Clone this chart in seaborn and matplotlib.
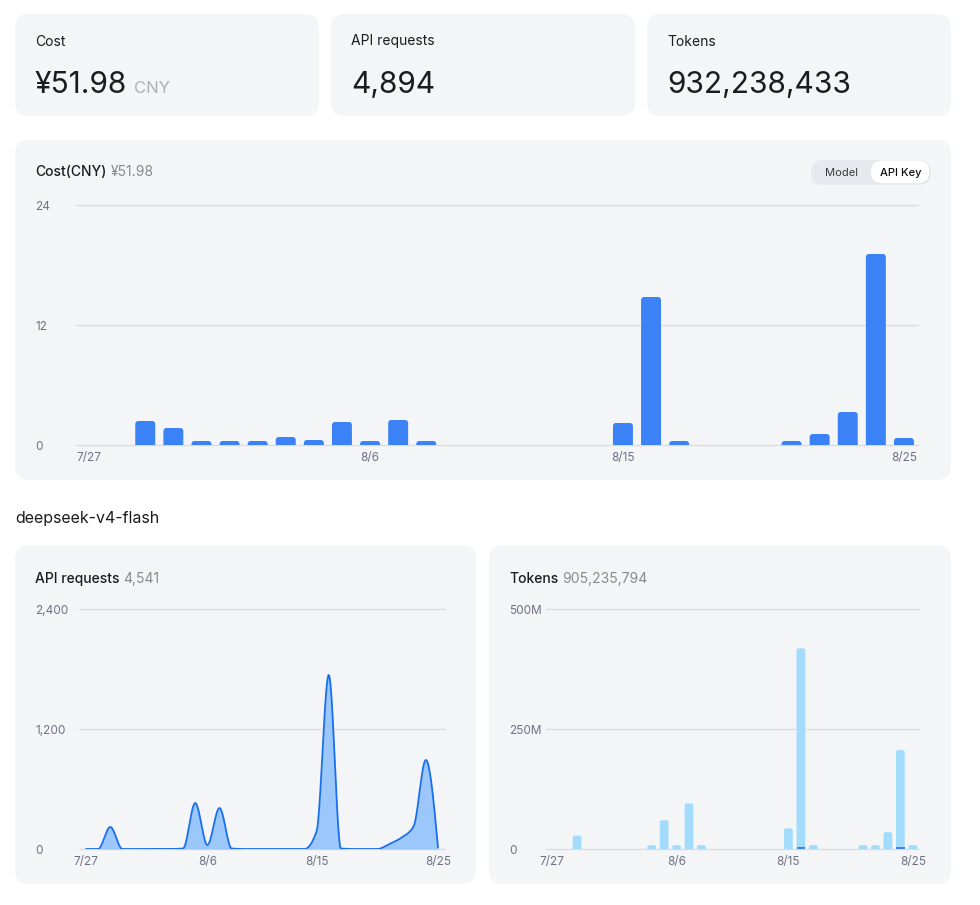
import numpy as np
import pandas as pd
import matplotlib
matplotlib.use('Agg')
import matplotlib.pyplot as plt
import seaborn as sns
from matplotlib.patches import FancyBboxPatch

# 30 days shown on every chart
days = [f'{d.month}/{d.day}' for d in pd.date_range('2025-07-27', '2025-08-25')]
tick_days = ['7/27', '8/6', '8/15', '8/25']

# daily cost in CNY (all models)
cost = [0, 0, 2.4, 1.7, 0.4, 0.4, 0.4, 0.8, 0.5, 2.3,
        0.4, 2.5, 0.4, 0, 0, 0, 0, 0, 0, 2.2,
        14.8, 0.4, 0, 0, 0, 0.4, 1.1, 3.3, 19.1, 0.7]

# deepseek-v4-flash: daily API requests
requests = [0, 0, 220, 0, 0, 0, 0, 0, 5, 460,
            40, 410, 5, 0, 0, 0, 0, 0, 0, 180,
            1740, 5, 0, 0, 0, 50, 115, 230, 890, 15]

# deepseek-v4-flash: daily tokens in millions (two stacked parts)
tokens_main = [0, 0, 28, 0, 0, 0, 0, 0, 8, 60,
               8, 95, 8, 0, 0, 0, 0, 0, 0, 43,
               414, 8, 0, 0, 0, 8, 8, 35, 201, 8]
tokens_small = [0, 0, 0, 0, 0, 0, 0, 0, 0, 0,
                0, 0, 0, 0, 0, 0, 0, 0, 0, 0,
                4, 0, 0, 0, 0, 0, 0, 0, 5, 0]

# summary numbers
total_cost = '¥51.98'
total_requests = '4,894'
total_tokens = '932,238,433'
flash_requests = '4,541'
flash_tokens = '905,235,794'

CARD = '#f4f5f7'
GRID = '#d9dbe3'
TICK = '#6e7285'
BLUE = '#3b82f6'
LINE = '#1a6ff0'
FILL = '#9cc7fb'
SKY = '#a3dbfd'
INK = '#1c1c1c'
GRAY = '#8a8a8a'

sns.set_theme(style='white')
plt.rcParams['font.family'] = ['Inter', 'DejaVu Sans']

W, H = 980, 905
fig = plt.figure(figsize=(W / 100, H / 100), dpi=100)
fig.patch.set_facecolor('white')
bg = fig.add_axes([0, 0, 1, 1], zorder=0)
bg.set_xlim(0, W)
bg.set_ylim(H, 0)
bg.axis('off')


def card(x0, y0, x1, y1, r=14, fc=CARD):
    bg.add_patch(FancyBboxPatch((x0, y0), x1 - x0, y1 - y0,
                                boxstyle=f'round,pad=0,rounding_size={r}',
                                fc=fc, ec='none'))


def px_axes(x0, y0, x1, y1):
    ax = fig.add_axes([x0 / W, 1 - y1 / H, (x1 - x0) / W, (y1 - y0) / H], zorder=1)
    ax.set_facecolor('none')
    return ax


def style(ax, yticks, ylabels, pad_px):
    for s in ax.spines.values():
        s.set_visible(False)
    ax.set_yticks(yticks, ylabels)
    ax.set_ylim(yticks[0], yticks[-1])
    ax.yaxis.grid(True, color=GRID, lw=0.9)
    ax.xaxis.grid(False)
    ax.set_axisbelow(True)
    for gl in ax.get_ygridlines():
        gl.set_clip_on(False)
    ax.tick_params(length=0, labelsize=8.5, labelcolor=TICK)
    ax.tick_params(axis='y', pad=pad_px * 0.72)
    ax.tick_params(axis='x', pad=5)
    for t in ax.get_yticklabels():
        t.set_ha('left')
    ax.set_xlabel('')
    ax.set_ylabel('')


def round_bars(ax, r_px, w_px, h_px):
    x0, x1 = ax.get_xlim()
    y0, y1 = ax.get_ylim()
    ux = (x1 - x0) / w_px
    uy = (y1 - y0) / h_px
    for p in list(ax.patches):
        h = p.get_height()
        if h > 0:
            rb = FancyBboxPatch((p.get_x(), p.get_y() - r_px * uy), p.get_width(), h + r_px * uy,
                                boxstyle=f'round,pad=0,rounding_size={r_px * ux}',
                                mutation_aspect=uy / ux, fc=p.get_facecolor(), ec='none',
                                zorder=p.get_zorder())
            ax.add_patch(rb)
        p.remove()


def monotone(x, y, n=40):
    # d3 curveMonotoneX style smoothing
    x = np.asarray(x, float)
    y = np.asarray(y, float)
    h = np.diff(x)
    s = np.diff(y) / h
    t = np.zeros_like(y)
    for i in range(1, len(y) - 1):
        p = (s[i - 1] * h[i] + s[i] * h[i - 1]) / (h[i - 1] + h[i])
        t[i] = (np.sign(s[i - 1]) + np.sign(s[i])) * min(abs(s[i - 1]), abs(s[i]), 0.5 * abs(p))
    t[0] = (3 * s[0] - t[1]) / 2
    t[-1] = (3 * s[-1] - t[-2]) / 2
    xs, ys = [], []
    for i in range(len(y) - 1):
        u = np.linspace(0, 1, n, endpoint=False)
        h00 = 2 * u**3 - 3 * u**2 + 1
        h10 = u**3 - 2 * u**2 + u
        h01 = -2 * u**3 + 3 * u**2
        h11 = u**3 - u**2
        xs.append(x[i] + u * h[i])
        ys.append(h00 * y[i] + h10 * h[i] * t[i] + h01 * y[i + 1] + h11 * h[i] * t[i + 1])
    xs.append([x[-1]])
    ys.append([y[-1]])
    return np.concatenate(xs), np.maximum(np.concatenate(ys), 0)


def text_after(prev, txt, gap, **kw):
    r = fig.canvas.get_renderer()
    bb = prev.get_window_extent(r)
    return bg.text(bb.x1 + gap, prev.get_position()[1], txt, **kw)


# ---- summary cards ----
for (x0, x1), label, value in [((15, 319), 'Cost', total_cost),
                               ((331, 635), 'API requests', total_requests),
                               ((647, 951), 'Tokens', total_tokens)]:
    card(x0, 14, x1, 116)
    bg.text(x0 + 20, 41.5, label, fontsize=10, color=INK, va='center')
    big = bg.text(x0 + 20, 93, value, fontsize=21.5, color=INK, va='baseline')
    if label == 'Cost':
        text_after(big, 'CNY', 7, fontsize=12, color='#b0b0b0', va='baseline')

# ---- cost chart ----
card(15, 140, 951, 480)
t = bg.text(35, 172, 'Cost(CNY)', fontsize=10, color=INK, va='center', weight='medium')
text_after(t, total_cost, 4, fontsize=10, color=GRAY, va='center')

# Model / API Key switch
card(811, 160, 931, 185, r=12.5, fc='#e8e9ef')
card(871.5, 161.5, 930, 184, r=11.2, fc='#d9dbe2')
card(871, 160.5, 929.5, 183.5, r=11.5, fc='white')
bg.text(841, 172.5, 'Model', fontsize=8, color='#3a3a3a', ha='center', va='center')
bg.text(900.5, 172.5, 'API Key', fontsize=8, color='#111111', ha='center', va='center', weight='medium')

df_cost = pd.DataFrame({'day': days, 'cost': cost})
ax1 = px_axes(75, 205, 918, 445)
sns.barplot(data=df_cost, x='day', y='cost', order=days, color=BLUE, saturation=1,
            width=0.71, errorbar=None, ax=ax1)
style(ax1, [0, 12, 24], ['0', '12', '24'], 40)
ax1.set_xlim(-0.5, len(days) - 0.5)
ax1.set_xticks([days.index(d) for d in tick_days], tick_days)
round_bars(ax1, 3, 843, 240)

# ---- model section ----
bg.text(15, 518, 'deepseek-v4-flash', fontsize=11.5, color=INK, va='center')

card(15, 545, 476, 884)
card(489, 545, 951, 884)
t = bg.text(35, 579, 'API requests', fontsize=10, color=INK, va='center', weight='medium')
text_after(t, flash_requests, 4, fontsize=10, color=GRAY, va='center')
t = bg.text(509, 579, 'Tokens', fontsize=10, color=INK, va='center', weight='medium')
text_after(t, flash_tokens, 4, fontsize=10, color=GRAY, va='center')

# requests area
ax2 = px_axes(79, 609, 445, 849)
xs, ys = monotone(np.arange(len(days)), requests)
ax2.fill_between(xs, ys, color=FILL, lw=0, zorder=2)
sns.lineplot(x=xs, y=ys, color=LINE, lw=1.3, estimator=None, sort=False, ax=ax2, zorder=3)
style(ax2, [0, 1200, 2400], ['0', '1,200', '2,400'], 44)
ax2.set_xlim(-0.577, len(days) - 1 + 0.577)
ax2.set_xticks([days.index(d) for d in tick_days], tick_days)

# tokens stacked bars
df_tok = pd.DataFrame({'day': days,
                       'total': np.array(tokens_main) + np.array(tokens_small),
                       'small': tokens_small})
ax3 = px_axes(546, 609, 919, 849)
sns.barplot(data=df_tok, x='day', y='total', order=days, color=SKY, saturation=1,
            width=0.70, errorbar=None, ax=ax3)
style(ax3, [0, 250, 500], ['0', '250M', '500M'], 37)
ax3.set_xlim(-0.5, len(days) - 0.5)
round_bars(ax3, 2, 373, 240)
n_light = len(ax3.patches)
sns.barplot(data=df_tok, x='day', y='small', order=days, color=BLUE, saturation=1,
            width=0.70, errorbar=None, ax=ax3)
for p in ax3.patches[n_light:]:
    p.set_zorder(5)
    p.set_linewidth(0)
    p.set_edgecolor('none')
ax3.set_ylim(0, 500)
ax3.set_xlim(-0.5, len(days) - 0.5)
ax3.set_xticks([days.index(d) for d in tick_days], tick_days)
ax3.set_xlabel('')
ax3.set_ylabel('')

fig.savefig('out.png', dpi=100, facecolor='white')
